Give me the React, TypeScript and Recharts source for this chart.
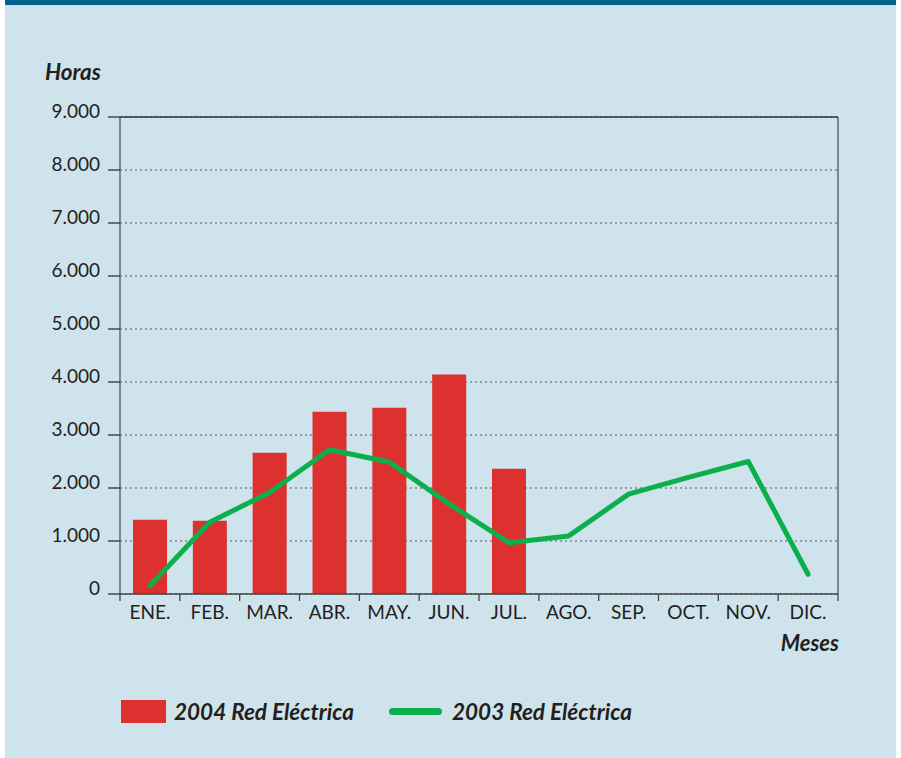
import React from "react";
import {
  ComposedChart,
  Bar,
  Line,
  XAxis,
  YAxis,
  CartesianGrid,
  ReferenceLine,
} from "recharts";

const months = ["ENE.", "FEB.", "MAR.", "ABR.", "MAY.", "JUN.", "JUL.", "AGO.", "SEP.", "OCT.", "NOV.", "DIC."];
const hours2004 = [1400, 1380, 2665, 3440, 3516, 4140, 2363, null, null, null, null, null];
const hours2003 = [157, 1355, 1915, 2722, 2490, 1700, 969, 1096, 1885, 2200, 2500, 372];
const yTicks = [0, 1000, 2000, 3000, 4000, 5000, 6000, 7000, 8000, 9000];
const series = ["2004 Red Eléctrica", "2003 Red Eléctrica"];

const data = months.map((m, i) => ({ mes: m, r2004: hours2004[i], r2003: hours2003[i] }));

const FONT = "Lato, 'DejaVu Sans', sans-serif";
const TXT = "#231f20";
const RED = "#dc312e";
const GREEN = "#0bb04c";
const BG = "#cfe3ec";

const fmt = (v: number) => String(v).replace(/\B(?=(\d{3})+(?!\d))/g, ".");

const XTick = (props: any) => {
  const { x, y, payload, index } = props;
  const off = payload.offset || 0;
  return (
    <g>
      <line x1={x - off} x2={x - off} y1={y} y2={y + 7} stroke="#444" strokeWidth={1.3} />
      {index === months.length - 1 && (
        <line x1={x + off} x2={x + off} y1={y} y2={y + 7} stroke="#444" strokeWidth={1.3} />
      )}
      <text x={x} y={y + 25} textAnchor="middle" fontFamily={FONT} fontSize={19} fill={TXT}>
        {payload.value}
      </text>
    </g>
  );
};

const YTick = (props: any) => {
  const { x, y, payload } = props;
  return (
    <text x={x} y={y + 1} textAnchor="end" fontFamily={FONT} fontSize={19} fill={TXT}>
      {fmt(payload.value)}
    </text>
  );
};

const label: React.CSSProperties = {
  position: "absolute",
  fontFamily: FONT,
  fontWeight: 700,
  fontStyle: "italic",
  color: TXT,
  whiteSpace: "nowrap",
};

export default function App() {
  return (
    <div style={{ position: "absolute", left: 0, top: 0, width: 901, height: 758, background: "#fff" }}>
      <div
        style={{
          position: "absolute",
          left: 5,
          top: 0,
          width: 891,
          height: 758,
          background: BG,
          borderTop: "5px solid #00618c",
          boxSizing: "border-box",
        }}
      />
      <div style={{ ...label, left: 45, top: 58, fontSize: 22.5 }}>Horas</div>
      <div style={{ ...label, right: 901 - 839, top: 629, fontSize: 22 }}>Meses</div>
      <div style={{ position: "absolute", left: 0, top: 0 }}>
        <ComposedChart
          width={901}
          height={758}
          data={data}
          margin={{ top: 117, right: 0, left: 0, bottom: 134 }}
          barCategoryGap="43%"
        >
          <CartesianGrid yAxisId="l" horizontal vertical={false} stroke="#555" strokeDasharray="2 3" />
          <XAxis
            dataKey="mes"
            height={30}
            interval={0}
            tickSize={0}
            tickMargin={0}
            tickLine={false}
            axisLine={{ stroke: "#444", strokeWidth: 1.3 }}
            tick={<XTick />}
          />
          <YAxis
            yAxisId="l"
            width={120}
            domain={[0, 9000]}
            ticks={yTicks}
            interval={0}
            tickSize={12}
            tickMargin={8}
            tickLine={{ stroke: "#333", strokeWidth: 1.3 }}
            axisLine={{ stroke: "#666", strokeWidth: 1.5 }}
            tick={<YTick />}
          />
          <YAxis
            yAxisId="r"
            orientation="right"
            width={63}
            domain={[0, 9000]}
            tick={false}
            tickLine={false}
            axisLine={{ stroke: "#555", strokeWidth: 1.3 }}
          />
          <ReferenceLine yAxisId="l" y={9000} stroke="#333" strokeWidth={1.5} />
          <Bar yAxisId="l" dataKey="r2004" name={series[0]} fill={RED} barSize={34} isAnimationActive={false} />
          <Line
            yAxisId="l"
            dataKey="r2003"
            name={series[1]}
            stroke={GREEN}
            strokeWidth={5}
            strokeLinecap="round"
            strokeLinejoin="round"
            dot={false}
            activeDot={false}
            type="linear"
            isAnimationActive={false}
          />
        </ComposedChart>
      </div>
      <div style={{ position: "absolute", left: 121, top: 700, width: 45, height: 23, background: RED }} />
      <div style={{ ...label, left: 174, top: 698, fontSize: 22.5 }}>{series[0]}</div>
      <div
        style={{ position: "absolute", left: 389, top: 708, width: 53, height: 7, borderRadius: 4, background: GREEN }}
      />
      <div style={{ ...label, left: 452, top: 698, fontSize: 22.5 }}>{series[1]}</div>
    </div>
  );
}
